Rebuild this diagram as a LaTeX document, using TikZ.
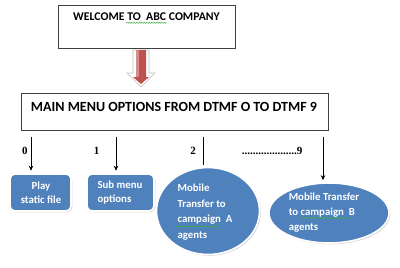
\documentclass[tikz,border=0pt]{standalone}
\usepackage{fontspec}
\setmainfont{Carlito}
\newfontfamily\serifnum{Liberation Serif}
\usetikzlibrary{shadows,shapes.geometric,arrows.meta,decorations.pathmorphing}
\definecolor{nodeblue}{HTML}{4F81BD}
\definecolor{arrowred}{HTML}{C0504D}
\definecolor{boxline}{HTML}{404040}
\definecolor{spellgreen}{HTML}{3CB043}
\begin{document}
\begin{tikzpicture}[x=1pt,y=-1pt,
  plainbox/.style={draw=boxline, line width=0.9pt, fill=white, inner sep=0pt},
  bluebase/.style={draw=white, line width=1.6pt, fill=nodeblue,
    drop shadow={shadow xshift=1.3pt, shadow yshift=-1.3pt, fill=black!30}},
  bluebox/.style={bluebase, rounded corners=5pt, inner sep=0pt},
  blueell/.style={bluebase, ellipse, inner sep=0pt},
  bluetext/.style={text=white, font=\bfseries\fontsize{10.8}{14}\selectfont, align=left, inner sep=0pt},
  conn/.style={draw=black, line width=0.7pt},
  arr/.style={conn, -{Stealth[length=5pt,width=4.5pt]}},
  numlbl/.style={font=\serifnum\bfseries\fontsize{11}{13}\selectfont, inner sep=0pt},
  squiggle/.style={draw=spellgreen, line width=0.5pt, decorate,
    decoration={snake, amplitude=0.6pt, segment length=2.5pt}}
]
\useasboundingbox (0,0) rectangle (400,268);
\fill[white] (0,0) rectangle (400,268);

% top box
\node[plainbox, minimum width=177pt, minimum height=43pt] (welcome) at (146.5,26.5) {};
\node[inner sep=0pt, font=\bfseries\fontsize{11.8}{13}\selectfont] (welcometext) at (146.5,16.5) {WELCOME TO\ \ ABC COMPANY};
\draw[squiggle] (126,22.8) -- (167,22.8);

% red block arrow
\fill[white] (132,49) -- (150,49) -- (150,72) -- (157,72) -- (141,88) -- (125,72) -- (132,72) -- cycle;
\draw[black!25, line width=0.6pt] (133,50) -- (149,50) -- (149,73) -- (155,73) -- (141,87) -- (127,73) -- (133,73) -- cycle;
\fill[arrowred] (136,50) -- (146,50) -- (146,77) -- (149,77) -- (141,84) -- (133,77) -- (136,77) -- cycle;
\fill[white, opacity=0.35] (136,50) -- (138.5,50) -- (138.5,77) -- (136,77) -- cycle;

% main box
\node[plainbox, minimum width=307pt, minimum height=37pt] (mainmenu) at (174.5,111.5) {};
\node[inner sep=0pt, font=\bfseries\fontsize{14}{16}\selectfont] (maintext) at (174,106.5) {MAIN MENU OPTIONS FROM DTMF O TO DTMF 9};

% option nodes
\node[bluebox, minimum width=61pt, minimum height=37pt] (play) at (40.5,192.5) {};
\node[bluetext, align=center] (playtext) at (41,192.5) {Play\\static file};
\node[bluebox, minimum width=67pt, minimum height=37pt] (sub) at (120.5,192.5) {};
\node[bluetext] (subtext) at (120,193) {Sub menu\\options};
\node[blueell, minimum width=103pt, minimum height=87pt] (campA) at (208,211) {};
\node[bluetext, font=\bfseries\fontsize{10.8}{15.5}\selectfont] (campAtext) at (205,212) {Mobile\\Transfer to\\campaign\ \ A\\agents};
\draw[squiggle] (176,226.5) -- (219,226.5);
\node[blueell, minimum width=120pt, minimum height=60pt] (campB) at (329,213) {};
\node[bluetext, font=\bfseries\fontsize{10.8}{15}\selectfont] (campBtext) at (324,213) {Mobile Transfer\\to campaign\ \ B\\agents};
\draw[squiggle] (301,218) -- (349,218);

% connectors
\coordinate (t0) at (31,137);
\coordinate (t1) at (116,137);
\coordinate (t2) at (203,137);
\coordinate (t2end) at (203,165);
\coordinate (t9) at (323,137);
\draw[arr, shorten >=2.5pt] (t0) -- (t0 |- play.north);
\draw[arr, shorten >=2.5pt] (t1) -- (t1 |- sub.north);
\draw[conn] (t2) -- (t2end);
\draw[arr, shorten >=2pt] (t9) -- (t9 |- campB.north);

% labels
\node[numlbl] (n0) at (25,150.5) {0};
\node[numlbl] (n1) at (96.5,150.5) {1};
\node[numlbl] (n2) at (193,150.5) {2};
\node[numlbl, anchor=east] (n9) at (302.5,150.5) {....................9};
\end{tikzpicture}
\end{document}
